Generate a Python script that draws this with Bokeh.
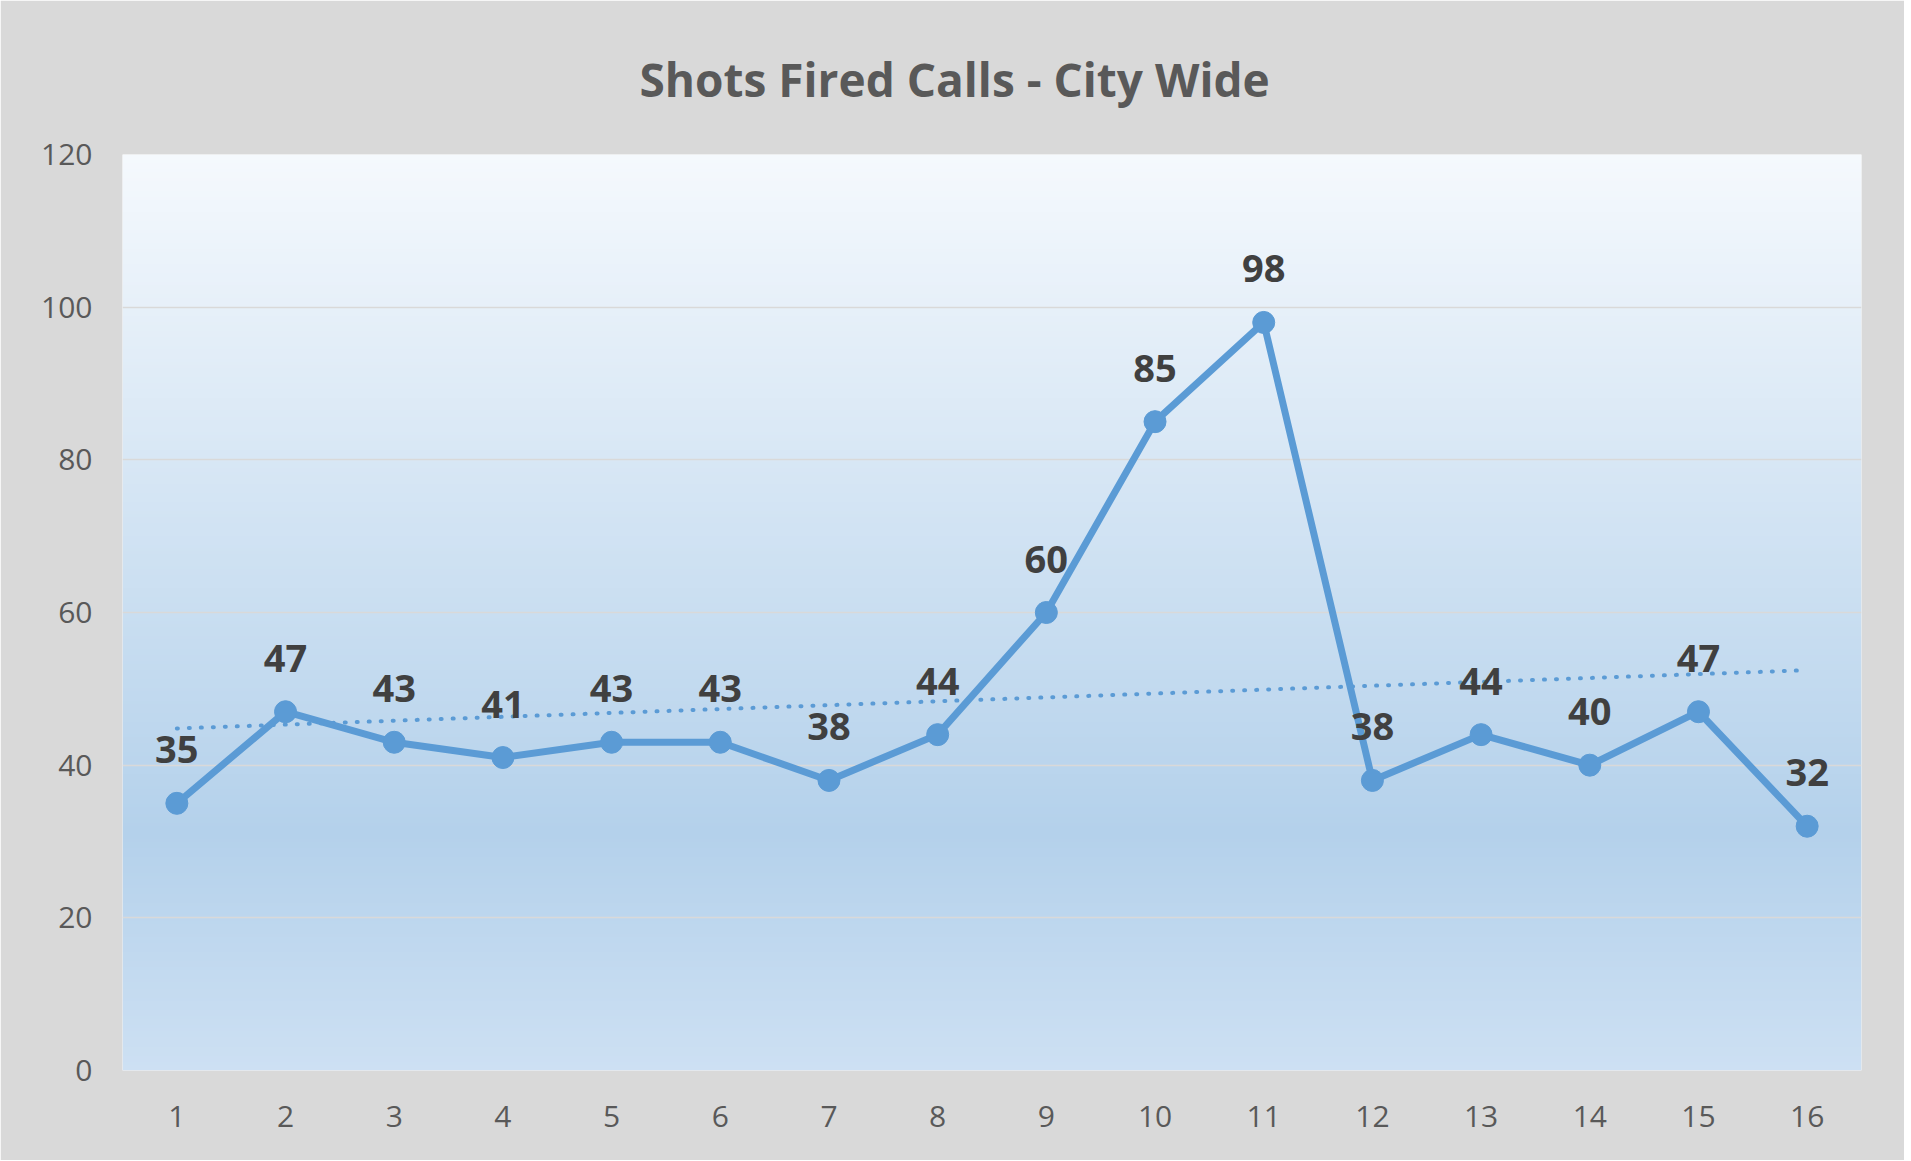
from bokeh.plotting import figure
from bokeh.models import Range1d, FixedTicker, ColumnDataSource, LabelSet
from bokeh.core.properties import value
from bokeh.embed import file_html
from bokeh.resources import INLINE
import numpy as np

# ---- data ----
periods = [1, 2, 3, 4, 5, 6, 7, 8, 9, 10, 11, 12, 13, 14, 15, 16]
calls = [35, 47, 43, 41, 43, 43, 38, 44, 60, 85, 98, 38, 44, 40, 47, 32]
y_ticks = [0, 20, 40, 60, 80, 100, 120]
title_text = "Shots Fired Calls - City Wide"

LINE = "#5b9bd5"
BG = "#d9d9d9"

p = figure(width=1904, height=1160, output_backend="svg", toolbar_location=None,
           x_range=Range1d(0.5, 16.5), y_range=Range1d(0, 120),
           min_border_left=122, min_border_right=43, min_border_top=153,
           min_border_bottom=90)
p.background_fill_color = None
p.border_fill_color = BG
p.outline_line_color = None

# gradient plot-area background (styling), drawn as one RGBA image
stops = [(0.0, (245, 249, 253)), (0.74, (180, 209, 235)), (1.0, (205, 224, 243))]
n = 300
img = np.zeros((n, 2), dtype=np.uint32)
view = img.view(dtype=np.uint8).reshape((n, 2, 4))
for i in range(n):
    t = 1 - (i + 0.5) / n  # row 0 is bottom
    for (t0, c0), (t1, c1) in zip(stops[:-1], stops[1:]):
        if t0 <= t <= t1:
            f = (t - t0) / (t1 - t0)
            c = [int(round(c0[k] + f * (c1[k] - c0[k]))) for k in range(3)]
            break
    view[i, :, 0] = c[0]
    view[i, :, 1] = c[1]
    view[i, :, 2] = c[2]
    view[i, :, 3] = 255
bg = p.image_rgba(image=[img], x=0.5, y=0, dw=16, dh=120)
bg.level = "image"

# grid
p.xgrid.visible = False
p.ygrid.ticker = FixedTicker(ticks=[20, 40, 60, 80, 100])
p.ygrid.grid_line_color = "#d9d9d9"
p.ygrid.grid_line_width = 1.5

# trendline (linear regression)
slope, icpt = np.polyfit(periods, calls, 1)
tx = [periods[0], periods[-1]]
ty = [icpt + slope * v for v in tx]
p.line(tx, ty, line_color=LINE, line_width=4, line_dash="1 11", line_cap="round")

# series
p.line(periods, calls, line_color=LINE, line_width=7, line_join="round")
p.scatter(periods, calls, size=22, fill_color=LINE, line_color=LINE)

src = ColumnDataSource(dict(x=periods, y=calls, t=[str(v) for v in calls]))
labels = LabelSet(x="x", y="y", text="t", source=src, y_offset=40,
                  text_align="center", text_baseline="alphabetic",
                  text_font=value("Open Sans"), text_font_style="bold",
                  text_font_size="38px", text_color="#404040")
p.add_layout(labels)

# axes
for ax in (p.xaxis[0], p.yaxis[0]):
    ax.axis_line_color = None
    ax.major_tick_line_color = None
    ax.minor_tick_line_color = None
    ax.major_label_text_font = "Open Sans"
    ax.major_label_text_font_size = "30px"
    ax.major_label_text_color = "#595959"
    ax.major_tick_out = 0
    ax.major_tick_in = 0
p.yaxis.ticker = FixedTicker(ticks=y_ticks)
p.xaxis.ticker = FixedTicker(ticks=periods)
p.yaxis.major_label_standoff = 30
p.xaxis.major_label_standoff = 35

# title
p.title.text = title_text
p.title.align = "left"
p.title.offset = 517
p.title.standoff = 90
p.title.text_font = "Open Sans"
p.title.text_font_style = "bold"
p.title.text_font_size = "46px"
p.title.text_color = "#595959"

open("out.html", "w").write(file_html(p, INLINE))
